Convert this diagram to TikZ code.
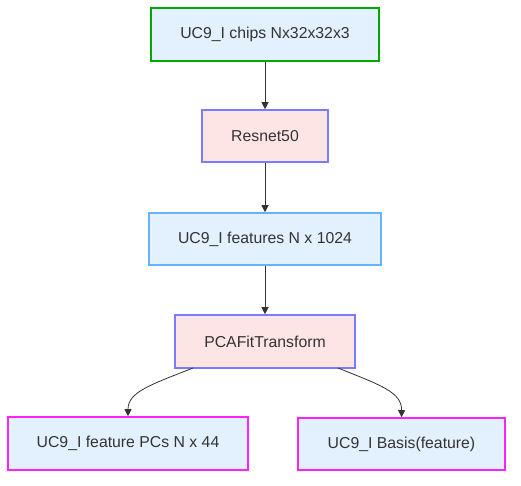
\documentclass[tikz,border=0pt]{standalone}
\usepackage{fontspec}
\setmainfont{Liberation Sans}
\usetikzlibrary{arrows.meta}
\definecolor{bluefill}{HTML}{E3F0FD}
\definecolor{pinkfill}{HTML}{FDE5E5}
\definecolor{greenline}{HTML}{00A800}
\definecolor{purpleline}{HTML}{7B7BFF}
\definecolor{lblueline}{HTML}{66B3FF}
\definecolor{magline}{HTML}{FF22FF}
\definecolor{txt}{HTML}{333333}
\tikzset{
  box/.style={draw, line width=1.6pt, rectangle, inner sep=0pt, text=txt, font=\fontsize{15.8}{18}\selectfont},
  inbox/.style={box, fill=bluefill, draw=greenline},
  procbox/.style={box, fill=pinkfill, draw=purpleline},
  databox/.style={box, fill=bluefill, draw=lblueline},
  outbox/.style={box, fill=bluefill, draw=magline},
  conn/.style={draw=txt, line width=0.8pt, -{Triangle[length=7pt,width=7pt]}}
}
\begin{document}
\begin{tikzpicture}[x=1pt,y=-1pt]
\useasboundingbox (0,0) rectangle (521,486);
\node[inbox, minimum width=228pt, minimum height=53pt] (chips) at (265,34.5) {UC9\_I chips Nx32x32x3};
\node[procbox, minimum width=126pt, minimum height=52pt] (resnet) at (265,136) {Resnet50};
\node[databox, minimum width=232pt, minimum height=52pt] (feat) at (265,239) {UC9\_I features N x 1024};
\node[procbox, minimum width=180pt, minimum height=53pt] (pca) at (265,341.5) {PCAFitTransform};
\node[outbox, minimum width=240pt, minimum height=53pt] (pcs) at (128,443.5) {UC9\_I feature PCs N x 44};
\node[outbox, minimum width=207pt, minimum height=52pt] (basis) at (401.5,444) {UC9\_I Basis(feature)};
\draw[conn] (chips) -- (resnet);
\draw[conn] (resnet) -- (feat);
\draw[conn] (feat) -- (pca);
\coordinate (pl) at (193,368);
\coordinate (pr) at (338,368);
\draw[conn] (pl) .. controls (150,385) and (128,392) .. (pcs.north);
\draw[conn] (pr) .. controls (380,385) and (402,392) .. (basis.north);
\end{tikzpicture}
\end{document}
